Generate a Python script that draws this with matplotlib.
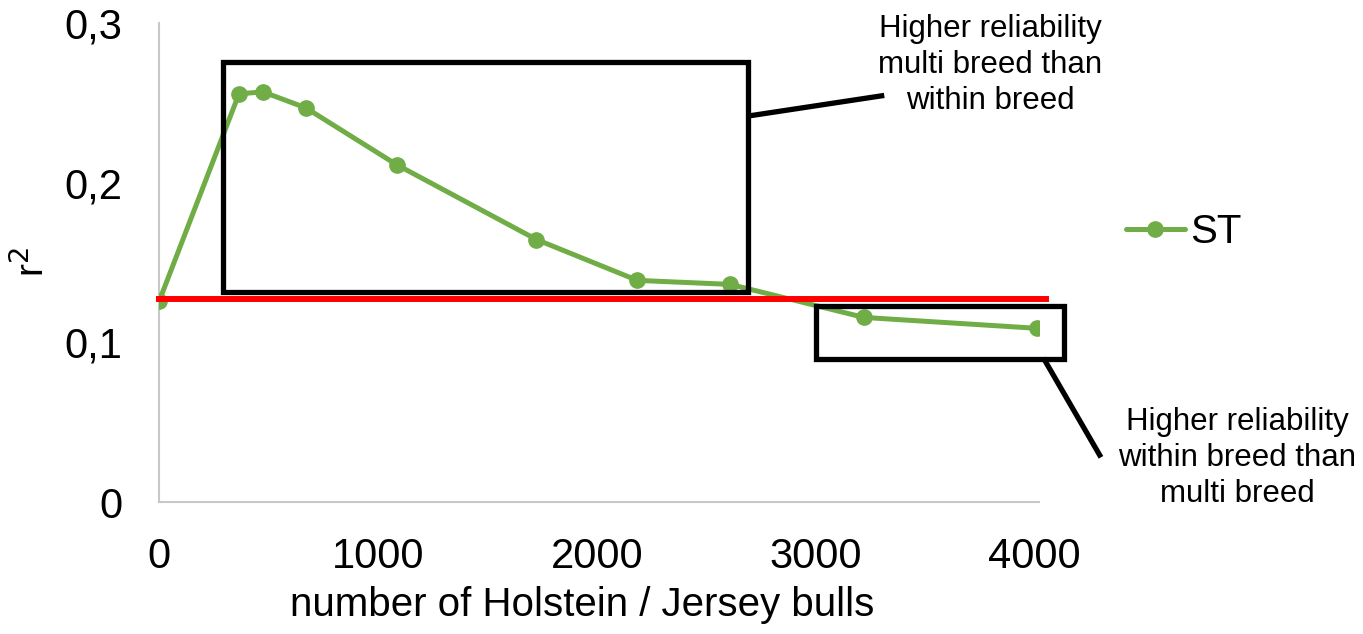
import matplotlib.pyplot as plt
from matplotlib.patches import Rectangle

plt.rcParams['font.family'] = ['Liberation Sans', 'DejaVu Sans']

n_bulls = [0, 365, 474, 670, 1085, 1724, 2185, 2609, 3220, 4009]
r2_st = [0.1256, 0.2556, 0.2569, 0.2469, 0.2113, 0.1644, 0.1388, 0.1363, 0.1156, 0.1088]
within_breed = 0.1269
within_x = [0, 4050]

box_multi = (290, 0.1313, 2689, 0.2756)
box_within = (3000, 0.0894, 4132, 0.1225)

yticks = [0, 0.1, 0.2, 0.3]
ytick_labels = ['0', '0,1', '0,2', '0,3']
xticks = [0, 1000, 2000, 3000, 4000]

green = '#70ad47'

fig = plt.figure(figsize=(13.63, 6.34), dpi=100)
ax = fig.add_axes([0.1167, 0.2082, 0.6456, 0.7555])

ax.plot(n_bulls, r2_st, color=green, lw=3.6, marker='o', ms=11, label='ST',
        solid_capstyle='round', zorder=3)
ax.plot(within_x, [within_breed, within_breed], color='#ff0000', lw=4.3,
        clip_on=False, zorder=4)

for x0, y0, x1, y1 in [box_multi, box_within]:
    ax.add_patch(Rectangle((x0, y0), x1 - x0, y1 - y0, fill=False,
                           ec='black', lw=3.8, clip_on=False, zorder=5))

ax.plot([2699, 3301], [0.2419, 0.2544], color='black', lw=3.8, clip_on=False)
ax.plot([4046, 4297], [0.0888, 0.0294], color='black', lw=3.8, clip_on=False)

ax.set_xlim(0, 4020)
ax.set_ylim(0, 0.3)
ax.set_xticks(xticks)
ax.set_yticks(yticks)
ax.set_yticklabels(ytick_labels)
ax.tick_params(length=0, labelsize=30)
ax.tick_params(axis='y', pad=26.5)
ax.tick_params(axis='x', pad=25)
for s in ['top', 'right']:
    ax.spines[s].set_visible(False)
for s in ['left', 'bottom']:
    ax.spines[s].set_color('#c8c8c8')
    ax.spines[s].set_linewidth(1.5)

fig.text(582 / 1363, 1 - 605 / 634, 'number of Holstein / Jersey bulls',
         fontsize=29, ha='center', va='center')
fig.text(32 / 1363, 1 - 262 / 634, 'r$^2$', fontsize=28, rotation=90,
         ha='center', va='center')

fig.text(990 / 1363, 1 - 65 / 634,
         'Higher reliability\nmulti breed than\nwithin breed',
         fontsize=22.5, ha='center', va='center', linespacing=1.26)
fig.text(1237 / 1363, 1 - 458 / 634,
         'Higher reliability\nwithin breed than\nmulti breed',
         fontsize=22.5, ha='center', va='center', linespacing=1.26)

fig.legend(loc='center left', bbox_to_anchor=(1106 / 1363, 1 - 232 / 634),
           frameon=False, fontsize=29, handlelength=1.45, handletextpad=0.15,
           borderpad=0)

fig.savefig('out.png', dpi=100)
